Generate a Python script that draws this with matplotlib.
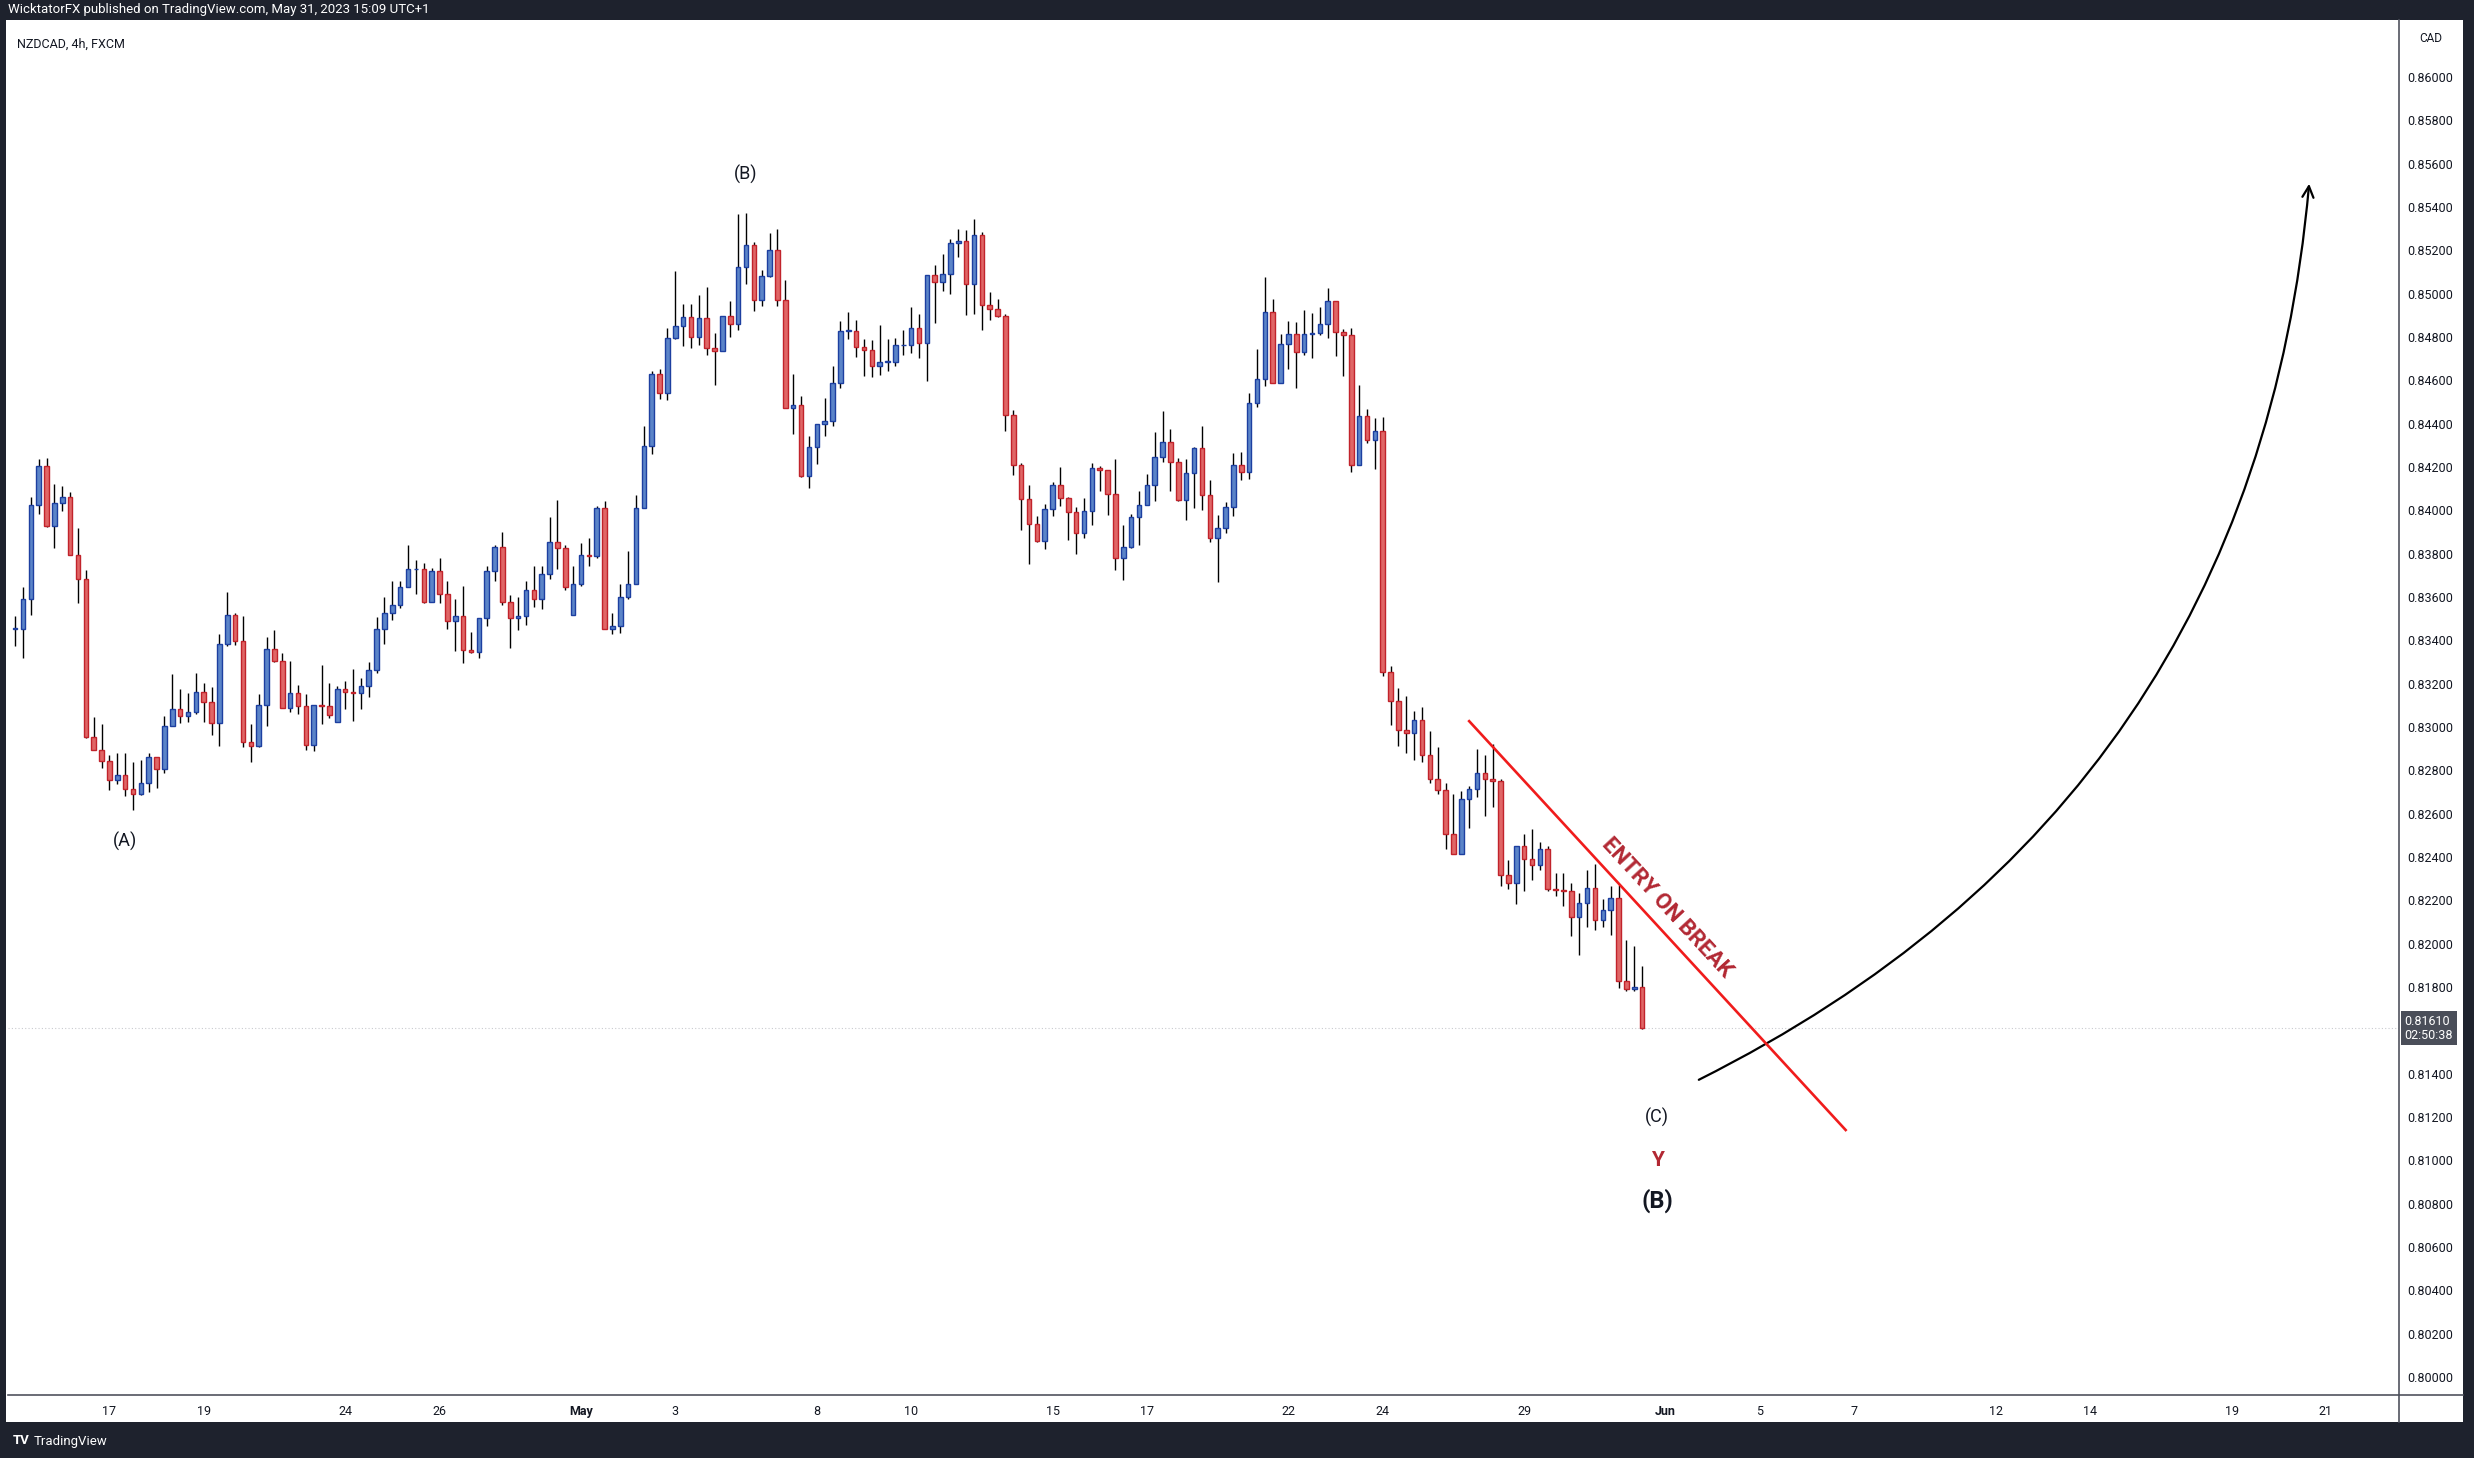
import matplotlib
matplotlib.use("Agg")
import matplotlib.pyplot as plt
import matplotlib.transforms as mtransforms
from matplotlib.patches import Rectangle
from matplotlib.lines import Line2D
import numpy as np

plt.rcParams["font.family"] = "Roboto"

# NZDCAD 4h candles, 13 Apr - 31 May 2023 (open = previous close unless listed in gap_opens)
closes = [
    0.83454, 0.83593, 0.84023, 0.84204, 0.83928, 0.84036, 0.84060, 0.83796, 0.83685, 0.82955,
    0.82895, 0.82844, 0.82757, 0.82780, 0.82715, 0.82692, 0.82743, 0.82863, 0.82808, 0.83006,
    0.83085, 0.83052, 0.83071, 0.83163, 0.83117, 0.83020, 0.83385, 0.83519, 0.83399, 0.82932,
    0.82914, 0.83103, 0.83362, 0.83306, 0.83089, 0.83159, 0.83099, 0.82918, 0.83103, 0.83099,
    0.83057, 0.83177, 0.83163, 0.83159, 0.83191, 0.83265, 0.83454, 0.83524, 0.83565, 0.83648,
    0.83727, 0.83727, 0.83577, 0.83718, 0.83616, 0.83487, 0.83510, 0.83357, 0.83348, 0.83505,
    0.83722, 0.83833, 0.83577, 0.83501, 0.83510, 0.83630, 0.83593, 0.83708, 0.83852, 0.83824,
    0.83644, 0.83662, 0.83792, 0.83787, 0.84009, 0.83454, 0.83468, 0.83598, 0.83662, 0.84013,
    0.84297, 0.84629, 0.84541, 0.84795, 0.84851, 0.84893, 0.84800, 0.84888, 0.84749, 0.84735,
    0.84897, 0.84860, 0.85124, 0.85225, 0.84971, 0.85082, 0.85202, 0.84971, 0.84472, 0.84486,
    0.84158, 0.84292, 0.84398, 0.84412, 0.84588, 0.84828, 0.84828, 0.84754, 0.84740, 0.84666,
    0.84685, 0.84685, 0.84763, 0.84763, 0.84842, 0.84772, 0.85087, 0.85054, 0.85091, 0.85234,
    0.85244, 0.85045, 0.85271, 0.84948, 0.84929, 0.84897, 0.84440, 0.84209, 0.84052, 0.83936,
    0.83858, 0.84005, 0.84116, 0.84056, 0.83992, 0.83895, 0.83996, 0.84195, 0.84186, 0.84075,
    0.83779, 0.83830, 0.83968, 0.84024, 0.84116, 0.84246, 0.84315, 0.84223, 0.84047, 0.84172,
    0.84287, 0.84070, 0.83871, 0.83918, 0.84015, 0.84209, 0.84176, 0.84495, 0.84606, 0.84916,
    0.84588, 0.84768, 0.84814, 0.84731, 0.84814, 0.84818, 0.84860, 0.84966, 0.84823, 0.84809,
    0.84209, 0.84435, 0.84324, 0.84366, 0.83252, 0.83118, 0.82984, 0.82971, 0.83031, 0.82869,
    0.82758, 0.82707, 0.82504, 0.82416, 0.82666, 0.82712, 0.82786, 0.82758, 0.82753, 0.82315,
    0.82278, 0.82449, 0.82393, 0.82361, 0.82439, 0.82254, 0.82250, 0.82245, 0.82125, 0.82190,
    0.82259, 0.82111, 0.82157, 0.82213, 0.81829, 0.81792, 0.81802, 0.81610,
]
highs = [
    0.83511, 0.83646, 0.84062, 0.84236, 0.84241, 0.84121, 0.84112, 0.84085, 0.83918, 0.83724,
    0.83046, 0.83012, 0.82869, 0.82880, 0.82880, 0.82837, 0.82850, 0.82880, 0.82863, 0.83051,
    0.83243, 0.83174, 0.83155, 0.83248, 0.83202, 0.83183, 0.83428, 0.83622, 0.83525, 0.83511,
    0.83014, 0.83151, 0.83414, 0.83446, 0.83343, 0.83305, 0.83196, 0.83153, 0.83103, 0.83285,
    0.83202, 0.83191, 0.83214, 0.83266, 0.83225, 0.83299, 0.83507, 0.83598, 0.83673, 0.83676,
    0.83842, 0.83770, 0.83759, 0.83736, 0.83778, 0.83676, 0.83593, 0.83653, 0.83440, 0.83505,
    0.83741, 0.83838, 0.83898, 0.83607, 0.83598, 0.83676, 0.83741, 0.83745, 0.83967, 0.84046,
    0.83838, 0.83745, 0.83847, 0.83870, 0.84018, 0.84041, 0.83524, 0.83662, 0.83810, 0.84073,
    0.84389, 0.84645, 0.84652, 0.84842, 0.85105, 0.84953, 0.84953, 0.84994, 0.85031, 0.84819,
    0.84897, 0.84966, 0.85368, 0.85373, 0.85239, 0.85110, 0.85281, 0.85299, 0.85063, 0.84629,
    0.84528, 0.84343, 0.84398, 0.84518, 0.84666, 0.84874, 0.84916, 0.84879, 0.84791, 0.84786,
    0.84856, 0.84791, 0.84795, 0.84832, 0.84939, 0.84906, 0.85087, 0.85133, 0.85184, 0.85253,
    0.85299, 0.85294, 0.85345, 0.85285, 0.85008, 0.84976, 0.84906, 0.84463, 0.84218, 0.84116,
    0.83973, 0.84029, 0.84130, 0.84200, 0.84061, 0.84015, 0.84056, 0.84218, 0.84204, 0.84186,
    0.84236, 0.83932, 0.83982, 0.84089, 0.84167, 0.84361, 0.84458, 0.84375, 0.84241, 0.84236,
    0.84292, 0.84389, 0.84139, 0.83978, 0.84038, 0.84264, 0.84269, 0.84541, 0.84745, 0.85077,
    0.84976, 0.84814, 0.84874, 0.84870, 0.84925, 0.84911, 0.84939, 0.85026, 0.84966, 0.84837,
    0.84842, 0.84578, 0.84467, 0.84426, 0.84430, 0.83280, 0.83178, 0.83142, 0.83072, 0.83091,
    0.82980, 0.82906, 0.82740, 0.82689, 0.82703, 0.82726, 0.82897, 0.82869, 0.82920, 0.82758,
    0.82388, 0.82453, 0.82504, 0.82527, 0.82467, 0.82449, 0.82324, 0.82324, 0.82282, 0.82236,
    0.82342, 0.82370, 0.82204, 0.82264, 0.82273, 0.82019, 0.81991, 0.81899,
]
lows = [
    0.83373, 0.83318, 0.83519, 0.83981, 0.83924, 0.83827, 0.83998, 0.83792, 0.83573, 0.82951,
    0.82895, 0.82810, 0.82709, 0.82736, 0.82681, 0.82618, 0.82686, 0.82699, 0.82718, 0.82787,
    0.83006, 0.83018, 0.83023, 0.83062, 0.83023, 0.82965, 0.82912, 0.83376, 0.83380, 0.82909,
    0.82838, 0.82909, 0.83006, 0.83302, 0.83089, 0.83071, 0.83062, 0.82895, 0.82891, 0.83015,
    0.83043, 0.83025, 0.83085, 0.83029, 0.83085, 0.83140, 0.83251, 0.83385, 0.83496, 0.83551,
    0.83648, 0.83616, 0.83570, 0.83577, 0.83573, 0.83452, 0.83351, 0.83295, 0.83343, 0.83318,
    0.83466, 0.83676, 0.83563, 0.83365, 0.83448, 0.83471, 0.83554, 0.83545, 0.83681, 0.83727,
    0.83630, 0.83519, 0.83653, 0.83745, 0.83778, 0.83454, 0.83431, 0.83436, 0.83593, 0.83662,
    0.84010, 0.84260, 0.84514, 0.84509, 0.84791, 0.84759, 0.84749, 0.84763, 0.84717, 0.84578,
    0.84735, 0.84800, 0.84832, 0.85045, 0.84920, 0.84943, 0.85077, 0.84943, 0.84472, 0.84352,
    0.84153, 0.84102, 0.84213, 0.84343, 0.84389, 0.84564, 0.84791, 0.84708, 0.84620, 0.84615,
    0.84625, 0.84643, 0.84666, 0.84717, 0.84726, 0.84703, 0.84597, 0.84865, 0.85013, 0.84999,
    0.85170, 0.84902, 0.84906, 0.84832, 0.84879, 0.84893, 0.84366, 0.84163, 0.83908, 0.83751,
    0.83853, 0.83821, 0.83973, 0.84019, 0.83862, 0.83798, 0.83871, 0.83932, 0.84089, 0.83978,
    0.83724, 0.83677, 0.83825, 0.83839, 0.84024, 0.84042, 0.84223, 0.84089, 0.84042, 0.83955,
    0.84010, 0.84001, 0.83853, 0.83668, 0.83895, 0.83973, 0.84139, 0.84144, 0.84477, 0.84574,
    0.84588, 0.84588, 0.84652, 0.84564, 0.84717, 0.84703, 0.84809, 0.84795, 0.84712, 0.84620,
    0.84176, 0.84209, 0.84310, 0.84190, 0.83234, 0.83008, 0.82911, 0.82878, 0.82846, 0.82837,
    0.82740, 0.82693, 0.82439, 0.82416, 0.82416, 0.82536, 0.82675, 0.82587, 0.82629, 0.82264,
    0.82254, 0.82185, 0.82241, 0.82296, 0.82338, 0.82241, 0.82222, 0.82176, 0.82037, 0.81950,
    0.82079, 0.82065, 0.82079, 0.82042, 0.81797, 0.81783, 0.81783, 0.81608,
]
first_open = 0.83454
gap_opens = {41: 0.83025, 71: 0.83519}

# time axis: 6 bars per trading day, Apr 17 starts at bar 12
day_labels = ["17", "19", "24", "26", "May", "3", "8", "10", "15", "17", "22", "24", "29",
              "Jun", "5", "7", "12", "14", "19", "21"]
day_offsets = [0, 2, 5, 7, 10, 12, 15, 17, 20, 22, 25, 27, 30, 33, 35, 37, 40, 42, 45, 47]
price_ticks = [round(0.800 + 0.002 * i, 3) for i in range(31)]
last_price = 0.81610

opens = [first_open] + closes[:-1]
for k, v in gap_opens.items():
    opens[k] = v

W, H = 2474, 1458
DARK = "#1e222d"
fig = plt.figure(figsize=(W / 100, H / 100), dpi=100, facecolor=DARK)
fig.patches.append(Rectangle((6 / W, 36 / H), 2457 / W, 1402 / H, transform=fig.transFigure,
                             facecolor="white", edgecolor="none", zorder=-5))
ax = fig.add_axes([8 / W, 63 / H, 2391 / W, 1375 / H])
ax.set_zorder(1)
ax.set_facecolor("white")

x = np.arange(len(closes))
o = np.array(opens); c = np.array(closes)
hi = np.maximum(np.array(highs), np.maximum(o, c))
lo = np.minimum(np.array(lows), np.minimum(o, c))
up = c >= o
ax.vlines(x, lo, hi, color="black", lw=1.0, zorder=2)
body = np.where(np.abs(c - o) < 0.00002, 0.00002, c - o)
ax.bar(x[up], body[up], bottom=o[up], width=0.58, color="#5b84c8", edgecolor="#1d3fa0",
       linewidth=1.0, zorder=3)
ax.bar(x[~up], body[~up], bottom=o[~up], width=0.58, color="#e06666", edgecolor="#c1232b",
       linewidth=1.0, zorder=3)

ax.set_xlim(-0.9, 303.3)
ax.set_ylim(0.79917, 0.86263)

ax.axhline(last_price, color="#c9cbd0", lw=0.8, ls=(0, (1, 2)), zorder=1)

# axes / ticks
for s in ["top", "left"]:
    ax.spines[s].set_visible(False)
for s in ["right", "bottom"]:
    ax.spines[s].set_color("#50535e")
    ax.spines[s].set_linewidth(1.2)
ax.yaxis.tick_right()
ax.set_yticks(price_ticks)
# the last-price box covers the 0.81600 label
ax.set_yticklabels(["" if abs(v - 0.816) < 1e-9 else f"{v:.5f}" for v in price_ticks])
ax.set_xticks([12 + 6 * d for d in day_offsets])
ax.set_xticklabels(day_labels)
for lbl in ax.get_xticklabels():
    if lbl.get_text() in ("May", "Jun"):
        lbl.set_fontweight("bold")
ax.tick_params(axis="both", length=0, labelsize=9, labelcolor="#131722")
ax.tick_params(axis="y", pad=6)
ax.tick_params(axis="x", pad=7)

fig.add_artist(Line2D([2399 / W, 2463 / W], [63 / H, 63 / H], color="#50535e", lw=1.2))
fig.add_artist(Line2D([2399 / W, 2399 / W], [36 / H, 63 / H], color="#50535e", lw=1.2))

# last price label
blend = mtransforms.blended_transform_factory(ax.transAxes, ax.transData)
ax.text(1.0022, last_price, "0.81610\n02:50:38", transform=blend, ha="left", va="center",
        fontsize=9, color="white", linespacing=1.1, clip_on=False, zorder=10,
        bbox=dict(boxstyle="square,pad=0.3", facecolor="#4a4e59", edgecolor="none"))

# header / footer text
fig.text(8 / W, 1 - 10 / H, "WicktatorFX published on TradingView.com, May 31, 2023 15:09 UTC+1",
         color="white", fontsize=9.5, va="center", ha="left")
fig.text(17 / W, 1 - 44 / H, "NZDCAD, 4h, FXCM", color="#131722", fontsize=9, va="center",
         zorder=5)
fig.text(2419 / W, 1 - 39 / H, "CAD", color="#131722", fontsize=8.5, va="center", zorder=5)
fig.text(13 / W, 1 - 1441 / H, "TV", color="white", fontsize=9.5, va="center", fontweight="bold")
fig.text(34 / W, 1 - 1441 / H, "TradingView", color="white", fontsize=9.5, va="center")

# wave labels
ax.text(92.9, 0.85552, "(B)", fontsize=13, ha="center", va="center", color="#131722")
ax.text(14.0, 0.82474, "(A)", fontsize=13, ha="center", va="center", color="#131722")
ax.text(208.9, 0.81200, "(C)", fontsize=13, ha="center", va="center", color="#131722")
ax.text(208.9, 0.80997, "Y", fontsize=15, ha="center", va="center", color="#b22833",
        fontweight="bold")
ax.text(208.9, 0.80812, "(B)", fontsize=17, ha="center", va="center", color="#131722",
        fontweight="bold")

# trendline + label
ax.plot([185.0, 232.9], [0.83027, 0.81140], color="#f01c1c", lw=1.9, zorder=4)
ax.text(210.2, 0.82165, "ENTRY ON BREAK", rotation=-47.3, rotation_mode="anchor",
        ha="center", va="center", fontsize=16, fontweight="bold", color="#b22833", zorder=5)

# projected curve arrow
ax.annotate("", xy=(291.9, 0.85520), xytext=(213.9, 0.81366),
            arrowprops=dict(arrowstyle="->,head_length=0.8,head_width=0.4", color="black",
                            lw=1.6, connectionstyle="arc3,rad=0.28"))

fig.savefig("out.png", dpi=100, facecolor=DARK)
